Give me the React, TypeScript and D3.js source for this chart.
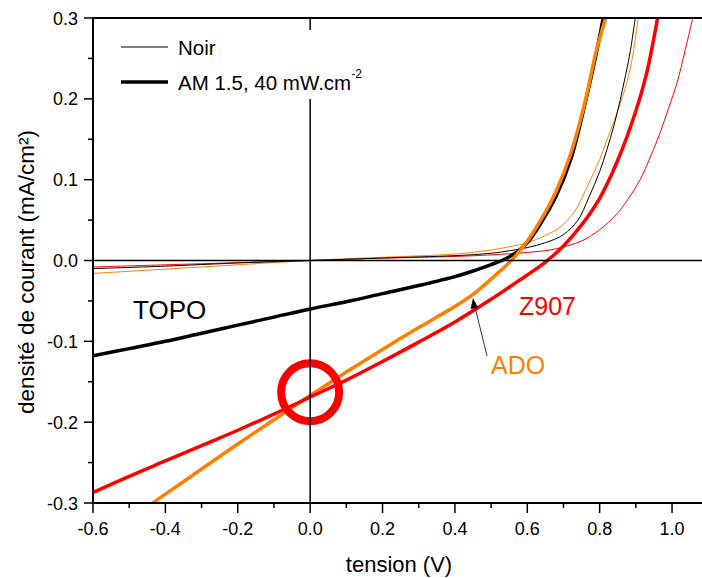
import React from "react";
import * as d3 from "d3";

// courbes J(V) : [tension (V), densité de courant (mA/cm²)]
const topoNoir: [number, number][] = [
  [-0.6, -0.010], [-0.4, -0.007], [-0.2, -0.003], [0, 0], [0.2, 0.003], [0.4, 0.006],
  [0.5, 0.009], [0.55, 0.012], [0.6, 0.016], [0.65, 0.022], [0.7, 0.032], [0.74, 0.05],
  [0.77, 0.078], [0.8, 0.11], [0.82, 0.137], [0.84, 0.168], [0.857, 0.199],
  [0.872, 0.23], [0.885, 0.26], [0.9, 0.305],
];
const adoNoir: [number, number][] = [
  [-0.6, -0.016], [-0.3, -0.008], [0, 0], [0.2, 0.004], [0.4, 0.008], [0.5, 0.013],
  [0.55, 0.017], [0.6, 0.022], [0.65, 0.031], [0.69, 0.041], [0.73, 0.06],
  [0.765, 0.091], [0.8, 0.125], [0.82, 0.149], [0.85, 0.185], [0.875, 0.22],
  [0.89, 0.25], [0.908, 0.305],
];
const z907Noir: [number, number][] = [
  [-0.6, -0.008], [-0.3, -0.004], [0, 0], [0.2, 0.003], [0.4, 0.005], [0.5, 0.007],
  [0.6, 0.010], [0.663, 0.013], [0.71, 0.018], [0.754, 0.025], [0.8, 0.038],
  [0.848, 0.058], [0.88, 0.077], [0.912, 0.1], [0.94, 0.128], [0.967, 0.158],
  [0.99, 0.188], [1.014, 0.22], [1.035, 0.258], [1.06, 0.305],
];
const topoAM: [number, number][] = [
  [-0.6, -0.118], [-0.5, -0.109], [-0.4, -0.100], [-0.3, -0.090], [-0.2, -0.080],
  [-0.1, -0.070], [0, -0.060], [0.1, -0.051], [0.2, -0.041], [0.3, -0.031],
  [0.4, -0.020], [0.45, -0.013], [0.5, -0.005], [0.53, 0.0], [0.57, 0.010],
  [0.6, 0.022], [0.64, 0.048], [0.68, 0.08], [0.72, 0.125], [0.76, 0.195],
  [0.79, 0.255], [0.812, 0.305],
];
const adoAM: [number, number][] = [
  [-0.45, -0.305], [-0.4, -0.289], [-0.3, -0.258], [-0.2, -0.227], [-0.1, -0.197],
  [0, -0.167], [0.1, -0.138], [0.2, -0.110], [0.3, -0.083], [0.35, -0.070],
  [0.4, -0.057], [0.45, -0.042], [0.5, -0.023], [0.53, -0.011], [0.56, 0.002],
  [0.6, 0.024], [0.64, 0.052], [0.68, 0.086], [0.72, 0.132], [0.76, 0.197],
  [0.79, 0.258], [0.82, 0.305],
];
const z907AM: [number, number][] = [
  [-0.6, -0.287], [-0.5, -0.267], [-0.4, -0.248], [-0.3, -0.229], [-0.2, -0.210],
  [-0.1, -0.190], [0, -0.169], [0.1, -0.148], [0.2, -0.125], [0.3, -0.101],
  [0.4, -0.076], [0.5, -0.048], [0.55, -0.033], [0.6, -0.018], [0.65, -0.002],
  [0.7, 0.018], [0.75, 0.044], [0.8, 0.077], [0.85, 0.124], [0.9, 0.185],
  [0.93, 0.232], [0.962, 0.305],
];

const xTicks = [-0.6, -0.4, -0.2, 0.0, 0.2, 0.4, 0.6, 0.8, 1.0];
const xMinor = [-0.5, -0.3, -0.1, 0.1, 0.3, 0.5, 0.7, 0.9];
const yTicks = [-0.3, -0.2, -0.1, 0.0, 0.1, 0.2, 0.3];
const yMinor = [-0.25, -0.15, -0.05, 0.05, 0.15, 0.25];

const ORANGE = "#ff8000";
const RED = "#ff0000";
const FONT = "'Liberation Sans', Arial, sans-serif";

const x = d3.scaleLinear().domain([-0.6, 1.08]).range([93, 701]);
const y = d3.scaleLinear().domain([-0.3, 0.3]).range([503, 18]);

const line = d3
  .line<[number, number]>()
  .x((d) => x(d[0]))
  .y((d) => y(d[1]))
  .curve(d3.curveCatmullRom.alpha(0.5));

export default function App() {
  const series = [
    { d: z907Noir, c: RED, w: 1 },
    { d: adoNoir, c: ORANGE, w: 1 },
    { d: topoNoir, c: "#000", w: 1 },
    { d: topoAM, c: "#000", w: 3.5 },
    { d: adoAM, c: ORANGE, w: 3.5 },
    { d: z907AM, c: RED, w: 3.5 },
  ];
  return (
    <svg
      width={702}
      height={578}
      style={{ position: "absolute", left: 0, top: 0, background: "#fff" }}
      fontFamily={FONT}
    >
      <defs>
        <clipPath id="plot">
          <rect x={x(-0.6)} y={y(0.3)} width={702 - x(-0.6)} height={y(-0.3) - y(0.3)} />
        </clipPath>
      </defs>

      <g clipPath="url(#plot)">
        {series.map((s, i) => (
          <path key={i} d={line(s.d) || ""} fill="none" stroke={s.c} strokeWidth={s.w} strokeLinejoin="round" />
        ))}
        <circle cx={x(0)} cy={y(-0.163)} r={29} fill="none" stroke={RED} strokeWidth={8} />
        <line x1={x(-0.6)} x2={702} y1={y(0)} y2={y(0)} stroke="#000" strokeWidth={1.5} />
        <line x1={x(0)} x2={x(0)} y1={y(0.3)} y2={y(-0.3)} stroke="#000" strokeWidth={1.5} />
      </g>

      {/* légende */}
      <rect x={105} y={30} width={295} height={69} fill="#fff" />
      <line x1={121} x2={168} y1={47} y2={47} stroke="#000" strokeWidth={1} />
      <text x={178} y={55} fontSize={20.5}>Noir</text>
      <line x1={121} x2={168} y1={82} y2={82} stroke="#000" strokeWidth={3.5} />
      <text x={178} y={90} fontSize={20.5}>
        AM 1.5, 40 mW.cm<tspan fontSize={12} dy={-12}>-2</tspan>
      </text>

      {/* axes */}
      <line x1={x(-0.6)} x2={702} y1={y(0.3)} y2={y(0.3)} stroke="#000" strokeWidth={2} />
      <line x1={x(-0.6)} x2={702} y1={y(-0.3)} y2={y(-0.3)} stroke="#000" strokeWidth={2} />
      <line x1={x(-0.6)} x2={x(-0.6)} y1={y(0.3) - 1} y2={y(-0.3) + 1} stroke="#000" strokeWidth={2} />

      {xTicks.map((t) => (
        <g key={"xt" + t}>
          <line x1={x(t)} x2={x(t)} y1={y(-0.3)} y2={y(-0.3) + 10} stroke="#000" strokeWidth={1.5} />
          <text x={x(t)} y={535} fontSize={18} textAnchor="middle">{t.toFixed(1)}</text>
        </g>
      ))}
      {xMinor.map((t) => (
        <line key={"xm" + t} x1={x(t)} x2={x(t)} y1={y(-0.3)} y2={y(-0.3) + 5} stroke="#000" strokeWidth={1.5} />
      ))}
      {yTicks.map((t) => (
        <g key={"yt" + t}>
          <line x1={x(-0.6) - 9} x2={x(-0.6)} y1={y(t)} y2={y(t)} stroke="#000" strokeWidth={1.5} />
          <text x={78} y={y(t) + 6.5} fontSize={18} textAnchor="end">{t.toFixed(1)}</text>
        </g>
      ))}
      {yMinor.map((t) => (
        <line key={"ym" + t} x1={x(-0.6) - 5} x2={x(-0.6)} y1={y(t)} y2={y(t)} stroke="#000" strokeWidth={1.5} />
      ))}

      <text x={399} y={572} fontSize={22} textAnchor="middle">tension (V)</text>
      <text transform="translate(34,272) rotate(-90)" fontSize={22.5} textAnchor="middle">
        densité de courant (mA/cm²)
      </text>

      {/* annotations */}
      <text x={133} y={319} fontSize={26}>TOPO</text>
      <text x={519} y={315} fontSize={25} fill={RED}>Z907</text>
      <text x={491} y={374} fontSize={25} fill={ORANGE}>ADO</text>
      <line x1={487} y1={356} x2={475} y2={307} stroke="#333" strokeWidth={1} />
      <path d="M473,298 L470.5,309 L478,307.5 Z" fill="#000" />
    </svg>
  );
}
